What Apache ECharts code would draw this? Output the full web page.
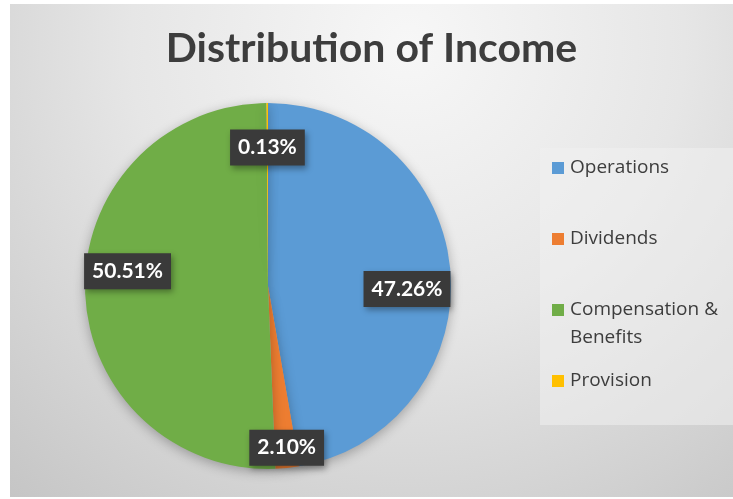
<!DOCTYPE html>
<html>
<head>
<meta charset="utf-8">
<script src="https://cdn.jsdelivr.net/npm/echarts@6/dist/echarts.min.js"></script>
<style>
  html, body { margin: 0; padding: 0; background: #ffffff; }
  #main { position: absolute; left: 10px; top: 4px; width: 723px; height: 493px; }
</style>
</head>
<body>
<div id="main"></div>
<script>
// data
var categories = ['Operations', 'Dividends', 'Compensation &\nBenefits', 'Provision'];
var shares = [47.26, 2.10, 50.51, 0.13];
var sliceColors = ['#5B9BD5', '#ED7D31', '#70AD47', '#FFC000'];
// nudges so the boxes sit roughly where excel put them
var labelNudge = [[1, 15], [4, 24], [-2, -18], [0, 0]];

var chart = echarts.init(document.getElementById('main'));

var pieData = [];
var labelData = [];
for (var i = 0; i < categories.length; i++) {
  pieData.push({
    name: categories[i],
    value: shares[i],
    itemStyle: { color: sliceColors[i] }
  });
  labelData.push({
    name: categories[i],
    value: shares[i],
    label: { offset: labelNudge[i] }
  });
}

// square on top of a tall invisible box, so it lines up with the first text line
var legendIcon = 'path://M0,0h12v12h-12z M0,39.95h0.05v0.05h-0.05z';

var option = {
  backgroundColor: {
    type: 'radial', x: 0.55, y: 0.08, r: 1.25,
    colorStops: [
      { offset: 0, color: '#f7f7f7' },
      { offset: 0.45, color: '#e6e6e6' },
      { offset: 1, color: '#c4c4c4' }
    ]
  },
  title: {
    text: 'Distribution of Income',
    left: 'center',
    top: 19,
    textStyle: {
      fontFamily: 'Lato',
      fontWeight: 'bold',
      fontSize: 41,
      color: '#3d3d3d'
    }
  },
  legend: {
    orient: 'vertical',
    left: 530,
    top: 144,
    padding: [6, 60, 2, 12],
    backgroundColor: 'rgba(240,240,240,0.55)',
    itemGap: 15,
    itemWidth: 12,
    itemHeight: 40,
    icon: legendIcon,
    itemStyle: { borderWidth: 0 },
    formatter: function (name) {
      return name.indexOf('\n') < 0 ? name + '\n ' : name;
    },
    textStyle: {
      fontFamily: 'Open Sans',
      fontSize: 19,
      lineHeight: 28,
      color: '#3d3d3d',
      padding: [0, 0, 0, 1]
    },
    data: categories
  },
  series: [{
    name: 'Income',
    type: 'pie',
    center: [258, 282],
    radius: 183,
    startAngle: 90,
    clockwise: true,
    silent: true,
    label: { show: false },
    labelLine: { show: false },
    itemStyle: {
      borderWidth: 0,
      shadowBlur: 12,
      shadowOffsetY: 3,
      shadowColor: 'rgba(0,0,0,0.28)'
    },
    data: pieData
  }, {
    name: 'Labels',
    type: 'pie',
    center: [258, 282],
    radius: [88, 183],
    startAngle: 90,
    clockwise: true,
    silent: true,
    itemStyle: { color: 'rgba(0,0,0,0)' },
    labelLine: { show: false },
    label: {
      show: true,
      position: 'inside',
      formatter: function (p) { return p.value.toFixed(2) + '%'; },
      fontFamily: 'Lato',
      fontWeight: 'bold',
      fontSize: 21,
      color: '#ffffff',
      backgroundColor: '#3a3a3a',
      padding: [8, 8, 7, 8],
      shadowBlur: 6,
      shadowOffsetX: 2,
      shadowOffsetY: 3,
      shadowColor: 'rgba(0,0,0,0.35)'
    },
    data: labelData
  }]
};

chart.setOption(option);
</script>
</body>
</html>
